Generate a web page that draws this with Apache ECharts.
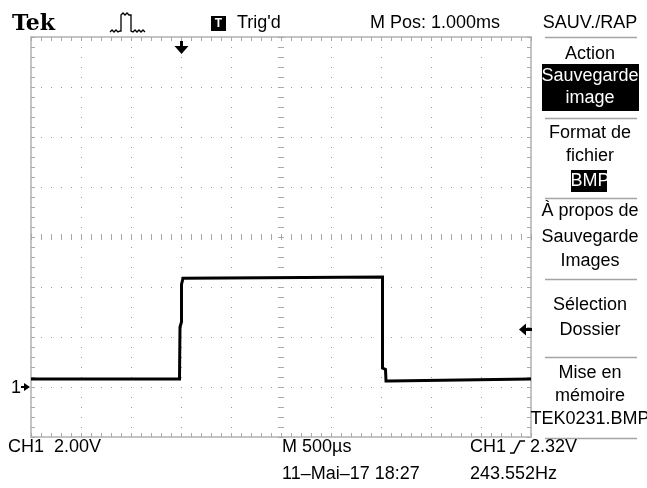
<!DOCTYPE html>
<html><head><meta charset="utf-8">
<script src="https://cdn.jsdelivr.net/npm/echarts@6/dist/echarts.min.js"></script>
<style>html,body{margin:0;padding:0;background:#fff}#c{width:647px;height:488px}</style>
</head><body><div id="c"></div>
<script>
const timeMs   = [-1.5, -0.015, -0.01, 0.005, 0.005, 0.02, 0.04, 2.015, 2.015, 2.045, 2.05, 2.08, 2.1, 3.5];
const ch1Volts = [0.32, 0.32, 2.4, 2.6, 4.1, 4.35, 4.4, 4.4, 0.76, 0.7, 0.24, 0.24, 0.32, 0.32];
const timeRangeMs = [-1.5, 3.5];   // 500 us/div, M Pos 1.000 ms at centre
const voltRange = [-2, 14];        // 2.00 V/div, ground 3 div below centre
const timePerDiv = 0.5;
const voltPerDiv = 2;
const triggerTimeMs = 0;
const triggerLevelV = 2.32;
const groundV = 0;
const topTexts = ['Tek', "Trig'd", 'M Pos: 1.000ms', 'SAUV./RAP'];
const menuTexts = ['Action', 'Sauvegarde', 'image', 'Format de', 'fichier', 'BMP',
  'À propos de', 'Sauvegarde', 'Images', 'Sélection', 'Dossier', 'Mise en', 'mémoire', 'TEK0231.BMP'];
const bottomTexts = ['CH1  2.00V', 'M 500µs', 'CH1', '2.32V', '11–Mai–17 18:27', '243.552Hz'];

// ---- layout ----
const FONT = '"Liberation Sans", Arial, sans-serif';
const GRID = {left: 31, top: 37, width: 500, height: 400};
const grat = '#a9a9a9';
const border = '#c4c4c4';
const chart = echarts.init(document.getElementById('c'), null, {renderer: 'canvas'});

function valAxis(min, max, interval, extra) {
  return Object.assign({
    type: 'value', min: min, max: max, interval: interval,
    axisLabel: {show: false},
    axisLine: {show: true, onZero: false, lineStyle: {color: border, width: 2}},
    axisTick: {show: true, inside: true, length: 4, lineStyle: {color: grat, width: 1}},
    minorTick: {show: true, splitNumber: 5, length: 4, lineStyle: {color: grat, width: 1}},
    splitLine: {show: false},
    minorSplitLine: {show: false}
  }, extra || {});
}
const dotted = {show: true, lineStyle: {color: '#9c9c9c', width: 1, type: [1, 9]}};
const centreTicks = {
  axisLine: {show: false, onZero: false},
  axisTick: {show: true, inside: true, length: 6, lineStyle: {color: grat, width: 1}},
  minorTick: {show: true, splitNumber: 5, length: 6, lineStyle: {color: grat, width: 1}}
};

chart.setOption({
  animation: false,
  backgroundColor: '#fff',
  grid: Object.assign({containLabel: false}, GRID),
  xAxis: [
    valAxis(timeRangeMs[0], timeRangeMs[1], timePerDiv, {position: 'bottom', splitLine: dotted}),
    valAxis(timeRangeMs[0], timeRangeMs[1], timePerDiv, {position: 'top'}),
    valAxis(timeRangeMs[0], timeRangeMs[1], timePerDiv, Object.assign({position: 'bottom', offset: -197}, centreTicks))
  ],
  yAxis: [
    valAxis(voltRange[0], voltRange[1], voltPerDiv, {position: 'left', splitLine: dotted}),
    valAxis(voltRange[0], voltRange[1], voltPerDiv, {position: 'right'}),
    valAxis(voltRange[0], voltRange[1], voltPerDiv, Object.assign({position: 'left', offset: -247}, centreTicks))
  ],
  series: [{
    type: 'line', xAxisIndex: 0, yAxisIndex: 0,
    data: timeMs.map((t, i) => [t, ch1Volts[i]]),
    showSymbol: false, symbol: 'none',
    lineStyle: {color: '#000', width: 3, join: 'miter'},
    clip: true, z: 5
  }]
});

function px(t, v) { return chart.convertToPixel({gridIndex: 0}, [t, v]); }
const trig = px(triggerTimeMs, triggerLevelV);
const gnd = px(timeRangeMs[0], groundV);
const gx0 = GRID.left, gx1 = GRID.left + GRID.width, gy0 = GRID.top;

function txt(s, x, y, opts) {
  opts = opts || {};
  const align = opts.align || 'left';
  return {type: 'text', x: x, y: y, z: 10,
    style: {text: s, font: opts.font || ('18px ' + FONT), fill: opts.fill || '#000',
      align: align, textAlign: align, verticalAlign: 'middle', textVerticalAlign: 'middle'}};
}
function hline(x1, x2, y, col, w) {
  return {type: 'line', z: 10, shape: {x1: x1, y1: y, x2: x2, y2: y}, style: {stroke: col || '#a4a4a4', lineWidth: w || 1.5}};
}

const els = [];
// top status bar
els.push(txt(topTexts[0], 12, 24, {font: 'bold 22px "DejaVu Serif", serif'}));
els.push({type: 'polyline', z: 10, shape: {points: [[110,32],[112,30],[114,32],[116,30],[118,32],[120,31],[121,31],[121,15],[123,13],[125,15],[127,13],[129,15],[131,15],[131,31],[133,32],[135,30],[137,32],[139,30],[141,32],[143,30],[145,32]]},
  style: {stroke: '#000', lineWidth: 1.3, fill: null}});
els.push({type: 'rect', z: 10, shape: {x: 211, y: 16, width: 15, height: 15}, style: {fill: '#000'}});
els.push(txt('T', 218.5, 24, {font: 'bold 12px ' + FONT, fill: '#fff', align: 'center'}));
els.push(txt(topTexts[1], 237, 23));
els.push(txt(topTexts[2], 370, 23));
els.push(txt(topTexts[3], 590, 23, {align: 'center'}));

// menu column
const menuY = [54, 76, 98, 133, 156, 181, 211, 237, 261, 305, 330, 373, 396, 419];
els.push({type: 'rect', z: 9, shape: {x: 542, y: 64, width: 97, height: 47}, style: {fill: '#000'}});
els.push({type: 'rect', z: 9, shape: {x: 571, y: 170, width: 36, height: 22}, style: {fill: '#000'}});
menuTexts.forEach((s, i) => {
  const inv = (i === 1 || i === 2 || i === 5);
  els.push(txt(s, 590, menuY[i], {align: 'center', fill: inv ? '#fff' : '#000'}));
});
[37, 118, 198, 279, 357, 438].forEach(y => els.push(hline(545, 637, y + 0.5)));

// bottom status
els.push(txt(bottomTexts[0], 8, 447));
els.push(txt(bottomTexts[1], 282, 447));
els.push(txt(bottomTexts[2], 470, 447));
els.push({type: 'polyline', z: 10, shape: {points: [[510,453],[514,453],[520,441],[525,441]]}, style: {stroke: '#000', lineWidth: 1.6, fill: null}});
els.push(txt(bottomTexts[3], 530, 447));
els.push(txt(bottomTexts[4], 282, 474));
els.push(txt(bottomTexts[5], 470, 474));

// trigger position arrow (top)
const tx = Math.round(trig[0]);
els.push({type: 'rect', z: 10, shape: {x: tx - 1, y: gy0 + 4, width: 3, height: 7}, style: {fill: '#000'}});
els.push({type: 'polygon', z: 10, shape: {points: [[tx - 6.5, gy0 + 9], [tx + 7.5, gy0 + 9], [tx + 0.5, gy0 + 17]]}, style: {fill: '#000'}});
// trigger level arrow (right)
const ty = Math.round(trig[1]);
els.push({type: 'polygon', z: 10, shape: {points: [[gx1 - 12, ty + 0.5], [gx1 - 5, ty - 5.5], [gx1 - 5, ty + 6.5]]}, style: {fill: '#000'}});
els.push({type: 'rect', z: 10, shape: {x: gx1 - 6, y: ty - 1, width: 7, height: 3}, style: {fill: '#000'}});
// ground marker (left)
const gy = Math.round(gnd[1]);
els.push(txt('1', 11, gy + 1, {font: '18px ' + FONT}));
els.push({type: 'rect', z: 10, shape: {x: 21, y: gy - 1, width: 4, height: 2}, style: {fill: '#000'}});
els.push({type: 'polygon', z: 10, shape: {points: [[24, gy - 4], [30, gy], [24, gy + 4]]}, style: {fill: '#000'}});

chart.setOption({graphic: {elements: els}});
</script></body></html>
